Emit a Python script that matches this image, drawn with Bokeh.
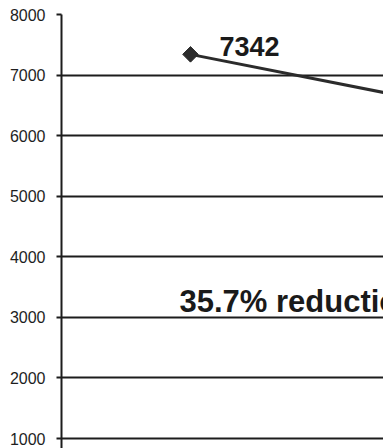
import math
from bokeh.plotting import figure
from bokeh.models import ColumnDataSource, Label, FixedTicker, Range1d
from bokeh.embed import file_html
from bokeh.resources import INLINE

# Series: first and last value of the measured count
x_pos = [0, 1]
counts = [7342, 4721]
point_label = "7342"
reduction_label = "35.7% reduction"
y_ticks = [1000, 2000, 3000, 4000, 5000, 6000, 7000, 8000]

INK = "#1c1c1c"

p = figure(width=383, height=448, output_backend="svg", toolbar_location=None,
           x_range=Range1d(-0.1604, 0.2400), y_range=Range1d(835, 8000),
           min_border_left=61, min_border_right=0, min_border_top=14,
           min_border_bottom=0)
p.outline_line_color = None
p.background_fill_color = "white"
p.border_fill_color = "white"

p.xaxis.visible = False
p.xgrid.visible = False

p.yaxis.ticker = FixedTicker(ticks=y_ticks)
p.yaxis.axis_line_color = INK
p.yaxis.axis_line_width = 2
p.yaxis.major_tick_line_color = INK
p.yaxis.major_tick_line_width = 2
p.yaxis.major_tick_out = 5
p.yaxis.major_tick_in = 0
p.yaxis.minor_tick_line_color = None
p.yaxis.major_label_standoff = 11
p.yaxis.major_label_text_font = "Liberation Sans"
p.yaxis.major_label_text_font_size = "16px"
p.yaxis.major_label_text_color = "#1e1e1e"

p.ygrid.grid_line_color = INK
p.ygrid.grid_line_width = 2
p.ygrid.grid_line_alpha = 1.0

src = ColumnDataSource(data=dict(x=x_pos, y=counts))
p.line("x", "y", source=src, line_color="#2b2b2b", line_width=3)
p.scatter("x", "y", source=src, marker="square", angle=math.pi / 4,
          size=11, fill_color="#2b2b2b", line_color="#2b2b2b")

p.add_layout(Label(x=x_pos[0], y=counts[0], x_offset=29, y_offset=8,
                   text=point_label, text_font="Liberation Sans",
                   text_font_style="bold", text_font_size="27px",
                   text_color="#1a1a1a", text_baseline="alphabetic"))
p.add_layout(Label(x=x_pos[0], y=3130, x_offset=-11, y_offset=8,
                   text=reduction_label, text_font="Liberation Sans",
                   text_font_style="bold", text_font_size="31px",
                   text_color="#1a1a1a", text_baseline="alphabetic"))

open("out.html", "w").write(file_html(p, INLINE))
